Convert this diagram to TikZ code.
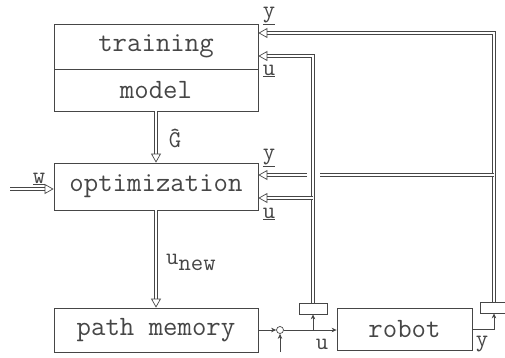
\documentclass[tikz,border=0pt]{standalone}
\usetikzlibrary{arrows.meta,positioning,calc}
\definecolor{paper}{HTML}{FFFFFF}
\definecolor{ink}{HTML}{464646}
\newcommand{\BoxW}{204pt}
\newcommand{\SigFont}{\ttfamily\fontsize{24}{26}\selectfont}

\begin{document}
\begin{tikzpicture}[
    x=1pt, y=-1pt,
    font=\ttfamily\fontsize{28}{30}\selectfont, ink,
    block/.style={draw=ink, line width=0.8pt, minimum width=\BoxW, inner sep=0pt},
    pipe/.style={draw=ink, line width=0.7pt, double=paper, double distance=2.2pt},
    pipearrow/.style={pipe, -{Triangle[open, length=9pt, width=10pt, line width=0.7pt]}},
    wire/.style={draw=ink, line width=0.7pt},
    wirearrow/.style={wire, -{Stealth[length=5pt, width=4.5pt]}},
    sensor/.style={draw=ink, line width=0.8pt, fill=paper, minimum width=28pt, minimum height=11pt, inner sep=0pt},
    sig/.style={inner sep=0pt, font=\SigFont},
  ]
\useasboundingbox (0,0) rectangle (505,358);

% --- The blocks ------------------------------------------------------------------
\node[block, minimum height=45pt] (train) at (156,46.5) {training};
\node[block, minimum height=42pt] (model) at (156,90) {model};
\node[block, minimum height=47pt] (opt) at (156,186.5) {optimization};
\node[block, minimum height=44pt] (pathmem) at (156,330) {path memory};
\node[block, minimum height=42pt, minimum width=135pt] (robot) at (404.5,329) {robot};
\node[sensor] (usens) at (313,308.5) {};
\node[sensor] (ysens) at (494,307.5) {};
\node[circle, draw=ink, line width=0.7pt, minimum size=7pt, inner sep=0pt] (sum) at (280,330) {};

% --- Entry points on the left blocks ----------------------------------------------
\path (train.east) ++(0,-13.5) coordinate (tr y) ++(0,23) coordinate (tr u);
\path (opt.east) ++(0,-11.5) coordinate (op y) ++(0,23) coordinate (op u);
\coordinate (w in) at (10,189);
\coordinate (u ext) at (280,352);

% --- Signal wires at the robot ------------------------------------------------------
\draw[wirearrow] (pathmem.east |- sum) -- (sum.west);
\draw[wirearrow] (u ext) -- (sum.south);
\draw[wirearrow] (sum.east) -- (robot.west |- sum);
\draw[wirearrow] (usens.south |- sum) -- (usens.south);
\draw[wirearrow] (robot.east |- 0,329) -| (ysens.south);

% --- Data pipes ---------------------------------------------------------------------
\draw[pipearrow] (w in) -- (opt.west |- w in);
\draw[pipearrow] (model.south) -- (opt.north);
\draw[pipearrow] (opt.south) -- (pathmem.north);
\draw[pipearrow] (ysens.north) |- (tr y);
\draw[pipe] (ysens.north |- op y) -- ($(usens.north |- op y)+(7,0)$);
\draw[pipearrow] ($(usens.north |- op y)+(-6,0)$) -- (op y);
\draw[pipearrow] (usens.north) |- (tr u);
\draw[pipearrow] (usens.north |- op u) -- (op u);

% --- Labels -------------------------------------------------------------------------
\node[sig] (lab y1) at (269,16) {\underline{y}};
\node[sig] (lab u1) at (269,71) {\underline{u}};
\node[sig] (lab y2) at (269,158) {\underline{y}};
\node[sig] (lab u2) at (269,214) {\underline{u}};
\node[sig] (lab g) at (175,138) {\^{G}};
\node[sig] (lab w) at (39,179) {\underline{w}};
\node[sig, anchor=west] (lab unew) at (166,262) {u\raisebox{-6pt}{new}};
\node[sig] (lab u3) at (322,344) {u};
\node[sig] (lab y3) at (482,344) {y};

\end{tikzpicture}
\end{document}
